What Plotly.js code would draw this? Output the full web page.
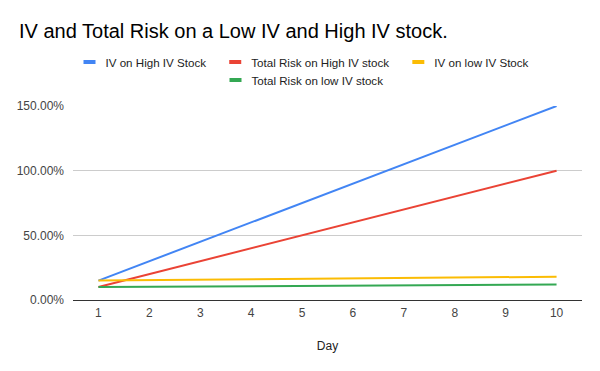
<!DOCTYPE html>
<html>
<head>
<meta charset="utf-8">
<script src="https://cdn.plot.ly/plotly-3.0.1.min.js"></script>
<style>html,body{margin:0;padding:0;background:#fff;}#chart{width:600px;height:371px;}</style>
</head>
<body>
<div id="chart"></div>
<script>
const days = [1, 2, 3, 4, 5, 6, 7, 8, 9, 10];
const ivHigh = [15, 30, 45, 60, 75, 90, 105, 120, 135, 150];
const riskHigh = [10, 20, 30, 40, 50, 60, 70, 80, 90, 100];
const ivLow = [15, 15.3, 15.7, 16, 16.3, 16.7, 17, 17.3, 17.7, 18];
const riskLow = [10, 10.2, 10.4, 10.7, 10.9, 11.1, 11.3, 11.6, 11.8, 12];
const yTicks = [0, 50, 100, 150];
const yTickLabels = ["0.00%", "50.00%", "100.00%", "150.00%"];

const font = "Arial, 'Liberation Sans', sans-serif";
function tr(name, y, color, legend) {
  return {x: days, y: y, name: name, type: 'scatter', mode: 'lines',
    line: {color: color, width: 2}, legend: legend,
    hoverinfo: 'skip'};
}
const data = [
  tr('IV on High IV Stock', ivHigh, '#4285F4', 'legend'),
  tr('Total Risk on High IV stock', riskHigh, '#EA4335', 'legend'),
  tr('IV on low IV Stock', ivLow, '#FBBC04', 'legend'),
  tr('Total Risk on low IV stock', riskLow, '#34A853', 'legend2')
];
const legendBase = {
  orientation: 'h', xref: 'container', yref: 'container', x: 0.5, xanchor: 'center',
  yanchor: 'middle', font: {family: font, size: 11.6, color: '#222'},
  bgcolor: 'rgba(0,0,0,0)', itemwidth: 30, tracegroupgap: 0
};
const layout = {
  width: 600, height: 371,
  margin: {l: 73, r: 18, t: 106, b: 71},
  paper_bgcolor: '#fff', plot_bgcolor: '#fff',
  font: {family: font, size: 12, color: '#444'},
  title: {text: 'IV and Total Risk on a Low IV and High IV stock.', xref: 'container', yref: 'container',
    x: 19/600, xanchor: 'left', y: 1 - 31/371, yanchor: 'middle',
    font: {family: font, size: 20, color: '#000'}},
  showlegend: true,
  legend: Object.assign({}, legendBase, {y: 1 - 62/371}),
  legend2: Object.assign({}, legendBase, {y: 1 - 80/371}),
  xaxis: {
    range: [0.5, 10.5], tickmode: 'array', tickvals: days, ticktext: days.map(String),
    showgrid: false, zeroline: false, showline: false, ticks: '', ticklabelstandoff: 4,
    tickfont: {family: font, size: 12, color: '#444'},
    title: {text: 'Day', font: {family: font, size: 12, color: '#222'}, standoff: 22}
  },
  yaxis: {
    range: [0, 150], tickmode: 'array', tickvals: yTicks, ticktext: yTickLabels,
    showgrid: true, gridcolor: '#cccccc', gridwidth: 1,
    zeroline: true, zerolinecolor: '#333333', zerolinewidth: 1,
    showline: false, ticks: '', ticklabelstandoff: 8,
    tickfont: {family: font, size: 12, color: '#444'}
  },
  hovermode: false
};
Plotly.newPlot('chart', data, layout, {displayModeBar: false, staticPlot: true}).then(function (gd) {
  // Google-Sheets-style legend keys: short thick bars instead of long thin lines
  gd.querySelectorAll('.legendlines path').forEach(function (p) {
    p.setAttribute('d', 'M18,0h12');
    p.style.strokeWidth = '4px';
  });
});
</script>
</body>
</html>
